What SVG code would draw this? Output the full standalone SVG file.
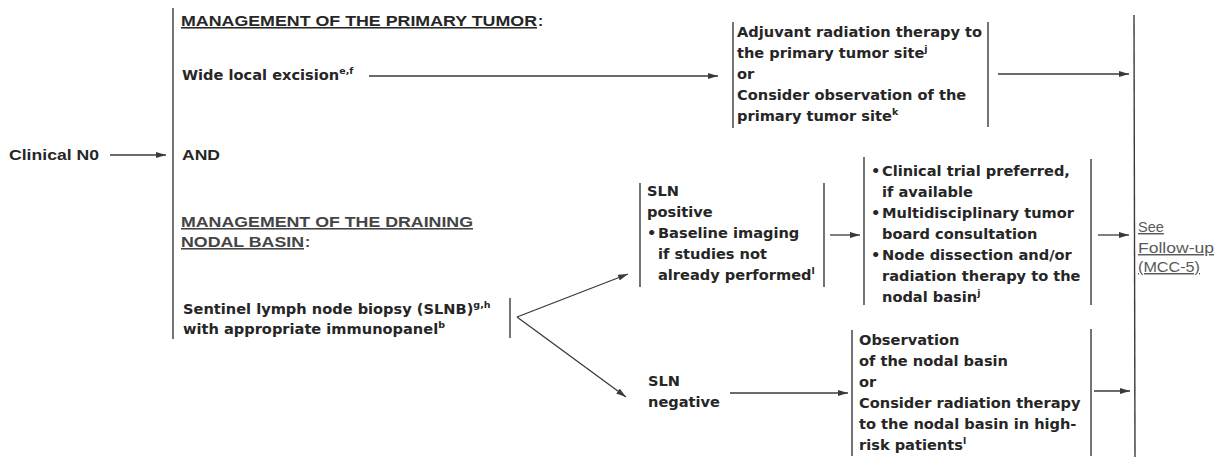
<svg xmlns="http://www.w3.org/2000/svg" width="1220" height="457" viewBox="0 0 1220 457">
  <defs>
    <style>
      .g { font-family: "DejaVu Sans", "Liberation Sans", sans-serif; font-weight: bold; font-size: 14.6px; fill: #262626; }
      .a { font-family: "Liberation Sans", Arial, sans-serif; font-weight: bold; font-size: 15.5px; fill: #262626; }
      .h2 { fill: #444444; }
      .u { text-decoration: underline; }
      .sup { font-size: 9.5px; }
      .link { font-family: "Liberation Sans", Arial, sans-serif; font-size: 14.5px; fill: #5a5a5a; text-decoration: underline; }
      .bar { stroke: #3a3a3a; stroke-width: 1.4; fill: none; }
      .conn { stroke: #3a3a3a; stroke-width: 1.3; fill: none; marker-end: url(#arrow); }
    </style>
    <marker id="arrow" viewBox="0 0 10 6" refX="10" refY="3" markerWidth="10" markerHeight="6" markerUnits="userSpaceOnUse" orient="auto">
      <path d="M0,0 L10,3 L0,6 Z" fill="#3a3a3a"/>
    </marker>
  </defs>
  <rect width="1220" height="457" fill="#ffffff"/>

  <g id="node-clinical-n0">
    <text class="a" x="9" y="160" textLength="90" lengthAdjust="spacingAndGlyphs">Clinical N0</text>
  </g>

  <g id="node-management">
    <line class="bar" x1="173" y1="8" x2="173" y2="339"/>
    <text class="a u" x="181" y="26" textLength="356" lengthAdjust="spacingAndGlyphs">MANAGEMENT OF THE PRIMARY TUMOR</text>
    <text class="a" x="538" y="26">:</text>
    <text class="g" x="182" y="80">Wide local excision<tspan class="sup" dy="-6">e,f</tspan></text>
    <text class="a" x="182" y="160" textLength="38" lengthAdjust="spacingAndGlyphs">AND</text>
    <text class="a h2 u" x="181" y="227" textLength="292" lengthAdjust="spacingAndGlyphs">MANAGEMENT OF THE DRAINING</text>
    <text class="a h2 u" x="181" y="247" textLength="123" lengthAdjust="spacingAndGlyphs">NODAL BASIN</text>
    <text class="a h2" x="305" y="247">:</text>
  </g>

  <g id="node-slnb">
    <text class="g" x="183" y="314">Sentinel lymph node biopsy (SLNB)<tspan class="sup" dy="-6">g,h</tspan></text>
    <text class="g" x="183" y="334">with appropriate immunopanel<tspan class="sup" dy="-6">b</tspan></text>
    <line class="bar" x1="510" y1="298" x2="510" y2="338"/>
  </g>

  <g id="node-adjuvant">
    <line class="bar" x1="733" y1="22" x2="733" y2="128"/>
    <line class="bar" x1="988" y1="22" x2="988" y2="127"/>
    <text class="g" x="737" y="37">Adjuvant radiation therapy to</text>
    <text class="g" x="737" y="58">the primary tumor site<tspan class="sup" dy="-6">j</tspan></text>
    <text class="g" x="737" y="79">or</text>
    <text class="g" x="737" y="100">Consider observation of the</text>
    <text class="g" x="737" y="121">primary tumor site<tspan class="sup" dy="-6">k</tspan></text>
  </g>

  <g id="node-sln-positive">
    <line class="bar" x1="640" y1="183" x2="640" y2="287"/>
    <line class="bar" x1="824" y1="183" x2="824" y2="287"/>
    <text class="g" x="647" y="196">SLN</text>
    <text class="g" x="647" y="217">positive</text>
    <text class="g"><tspan x="647" y="238">•</tspan><tspan x="658" y="238">Baseline imaging</tspan></text>
    <text class="g" x="658" y="259">if studies not</text>
    <text class="g" x="658" y="280">already performed<tspan class="sup" dy="-6">l</tspan></text>
  </g>

  <g id="node-sln-positive-management">
    <line class="bar" x1="864" y1="157" x2="864" y2="305"/>
    <line class="bar" x1="1091" y1="159" x2="1091" y2="305"/>
    <text class="g"><tspan x="871" y="176">•</tspan><tspan x="882" y="176">Clinical trial preferred,</tspan></text>
    <text class="g" x="882" y="197">if available</text>
    <text class="g"><tspan x="871" y="218">•</tspan><tspan x="882" y="218">Multidisciplinary tumor</tspan></text>
    <text class="g" x="882" y="239">board consultation</text>
    <text class="g"><tspan x="871" y="260">•</tspan><tspan x="882" y="260">Node dissection and/or</tspan></text>
    <text class="g" x="882" y="281">radiation therapy to the</text>
    <text class="g" x="882" y="302">nodal basin<tspan class="sup" dy="-6">j</tspan></text>
  </g>

  <g id="node-sln-negative">
    <text class="g" x="648" y="386">SLN</text>
    <text class="g" x="648" y="407">negative</text>
  </g>

  <g id="node-observation">
    <line class="bar" x1="852" y1="330" x2="852" y2="456"/>
    <line class="bar" x1="1091" y1="329" x2="1091" y2="456"/>
    <text class="g" x="859" y="345">Observation</text>
    <text class="g" x="859" y="366">of the nodal basin</text>
    <text class="g" x="859" y="387">or</text>
    <text class="g" x="859" y="408">Consider radiation therapy</text>
    <text class="g" x="859" y="429">to the nodal basin in high-</text>
    <text class="g" x="859" y="450">risk patients<tspan class="sup" dy="-6">l</tspan></text>
  </g>

  <g id="node-follow-up">
    <line class="bar" x1="1134" y1="15" x2="1135" y2="457"/>
    <text class="link" x="1138" y="232">See</text>
    <text class="link" x="1138" y="253" textLength="76" lengthAdjust="spacingAndGlyphs">Follow-up</text>
    <text class="link" x="1138" y="272" textLength="62" lengthAdjust="spacingAndGlyphs">(MCC-5)</text>
  </g>

  <g id="connectors">
    <line class="conn" x1="110" y1="155" x2="166" y2="155"/>
    <line class="conn" x1="369" y1="76" x2="718" y2="76"/>
    <line class="conn" x1="998" y1="74" x2="1129" y2="74"/>
    <line class="conn" x1="517" y1="317" x2="628" y2="274"/>
    <line class="conn" x1="517" y1="317" x2="626" y2="397"/>
    <line class="conn" x1="830" y1="235" x2="860" y2="235"/>
    <line class="conn" x1="1098" y1="235" x2="1129" y2="235"/>
    <line class="conn" x1="730" y1="393" x2="848" y2="393"/>
    <line class="conn" x1="1094" y1="391" x2="1130" y2="391"/>
  </g>
</svg>
